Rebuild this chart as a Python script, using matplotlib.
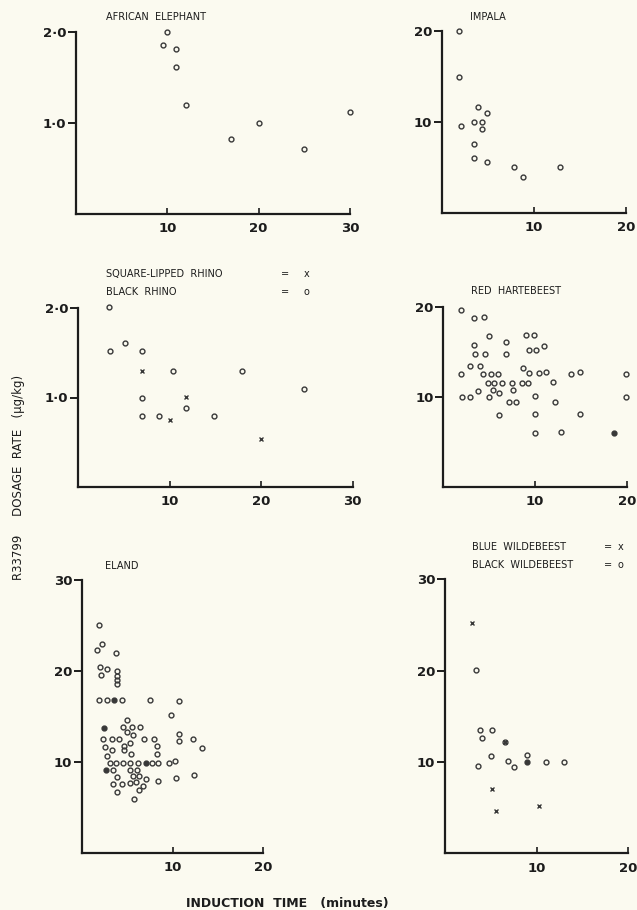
import matplotlib
matplotlib.use("Agg")
import matplotlib.pyplot as plt

# ---- Data (induction time in minutes, dosage rate) ----
elephant_t = [10, 9.5, 11, 11, 12, 17, 20, 25, 30]
elephant_dose = [2.0, 1.86, 1.81, 1.62, 1.2, 0.82, 1.0, 0.71, 1.12]

impala_t = [1.85, 1.85, 2.1, 3.5, 3.9, 4.35, 4.35, 4.9, 3.5, 3.5, 4.85, 7.8, 8.85, 12.85]
impala_dose = [20, 15, 9.6, 10, 11.7, 10, 9.2, 11, 7.6, 6.0, 5.6, 5.1, 4.0, 5.05]

black_rhino_t = [3.4, 3.5, 5.1, 7, 10.4, 17.9, 7, 7, 8.9, 11.8, 14.8, 24.7]
black_rhino_dose = [2.01, 1.52, 1.61, 1.52, 1.3, 1.3, 1.0, 0.79, 0.79, 0.88, 0.79, 1.09]
sq_rhino_t = [7, 11.8, 10, 20]
sq_rhino_dose = [1.3, 1.01, 0.75, 0.54]

hart_t = [1.9, 3.38, 4.44, 4.95, 8.99, 9.86, 3.38, 6.87, 9.38, 10.1, 11.0, 3.46, 4.58, 6.84,
          2.88, 3.97, 8.72, 1.96, 4.3, 5.17, 6.0, 9.31, 10.4, 11.17, 13.93, 14.87, 19.96,
          4.84, 5.56, 6.37, 7.46, 8.58, 9.27, 12.0, 5.45, 7.6, 3.78, 6.07, 2.04, 2.95, 4.98,
          9.97, 19.96, 7.13, 7.96, 12.18, 6.07, 9.97, 14.87, 10.03, 12.87]
hart_dose = [19.6, 18.74, 18.9, 16.8, 16.9, 16.9, 15.8, 16.04, 15.2, 15.2, 15.6, 14.7, 14.7, 14.7,
             13.4, 13.4, 13.15, 12.5, 12.5, 12.5, 12.5, 12.6, 12.6, 12.75, 12.5, 12.7, 12.5,
             11.5, 11.5, 11.5, 11.5, 11.55, 11.55, 11.6, 10.7, 10.7, 10.67, 10.4, 10.0, 10.0, 10.0,
             10.08, 10.0, 9.41, 9.41, 9.41, 8.0, 8.08, 8.03, 5.97, 6.08]
hart_filled_t = [18.58]
hart_filled_dose = [5.97]

eland_t = [1.9, 2.24, 1.69, 3.78, 2.02, 2.72, 2.13, 3.82, 3.82, 3.82, 3.82,
           1.9, 2.72, 4.37, 7.53, 10.7, 9.85,
           5.0, 4.48, 5.47, 6.39, 5.0, 5.59,
           2.32, 3.31, 4.12, 6.8, 7.98, 10.73, 10.73, 12.24, 13.23,
           2.5, 3.27, 4.63, 5.33, 4.67, 8.23, 5.44, 8.27, 2.76,
           3.05, 3.78, 4.48, 5.26, 6.14, 7.72, 8.35, 9.56, 10.22,
           3.42, 5.26, 6.1, 3.82, 5.59, 6.32, 7.09, 8.35, 10.33, 12.31,
           3.45, 4.41, 5.26, 5.95, 6.76, 6.28, 3.89, 5.77]
eland_dose = [25.05, 23.0, 22.3, 22.0, 20.4, 20.2, 19.56, 19.97, 19.5, 19.0, 18.57,
              16.8, 16.8, 16.8, 16.8, 16.7, 15.2,
              14.65, 13.9, 13.9, 13.9, 13.33, 12.97,
              12.53, 12.53, 12.53, 12.53, 12.53, 13.04, 12.34, 12.5, 11.57,
              11.6, 11.35, 11.8, 12.12, 11.28, 11.8, 10.9, 10.9, 10.7,
              9.89, 9.89, 9.89, 9.89, 9.89, 9.89, 9.89, 9.86, 10.1,
              9.08, 9.08, 9.08, 8.39, 8.45, 8.45, 8.13, 7.95, 8.28, 8.6,
              7.58, 7.6, 7.69, 7.84, 7.4, 6.89, 6.7, 5.97]
eland_filled_t = [3.49, 2.46, 7.02, 2.68]
eland_filled_dose = [16.8, 13.77, 9.89, 9.08]

blue_wb_t = [2.95, 6.52, 5.17, 5.6, 10.24]
blue_wb_dose = [25.2, 12.2, 7.07, 4.65, 5.2]
black_wb_t = [3.42, 3.86, 5.14, 4.08, 5.03, 3.57, 6.9, 7.54, 8.9, 11.07, 13.0, 6.52]
black_wb_dose = [20.07, 13.5, 13.5, 12.6, 10.7, 9.6, 10.15, 9.5, 10.8, 10.0, 10.0, 12.2]
black_wb_filled_t = [8.9]
black_wb_filled_dose = [9.97]

# ---- Figure setup ----
W, H = 637, 910
BG = "#fbfaf0"
INK = "#1c1c1c"
DOT = "#383838"
plt.rcParams["font.family"] = ["DejaVu Sans"]

fig = plt.figure(figsize=(W / 100, H / 100), dpi=100, facecolor=BG)


def panel(x0, x1, yb, yt, xmax, ymax, yticks, yticklabels, xticks):
    ax = fig.add_axes([x0 / W, 1 - yb / H, (x1 - x0) / W, (yb - yt) / H])
    ax.set_facecolor("none")
    ax.set_xlim(0, xmax)
    ax.set_ylim(0, ymax)
    for s in ("top", "right"):
        ax.spines[s].set_visible(False)
    for s in ("left", "bottom"):
        ax.spines[s].set_linewidth(1.6)
        ax.spines[s].set_color(INK)
        ax.spines[s].set_capstyle("projecting")
    ax.set_yticks(yticks)
    ax.set_yticklabels(yticklabels)
    ax.set_xticks(xticks)
    ax.set_xticklabels([str(v) for v in xticks])
    ax.tick_params(axis="y", direction="out", length=6, width=1.4, pad=1,
                   labelsize=9.5, colors=INK)
    ax.tick_params(axis="x", direction="in", length=4, width=1.2, pad=6,
                   labelsize=9.5, colors=INK)
    for lab in ax.get_xticklabels() + ax.get_yticklabels():
        lab.set_fontweight("bold")
    return ax


def circles(ax, t, d, filled=False):
    ax.plot(t, d, "o", ms=3.5, mew=1.0, mec=DOT,
            mfc=DOT if filled else "none", clip_on=False)


def crosses(ax, t, d):
    ax.plot(t, d, "x", ms=3.3, mew=1.0, color=DOT, clip_on=False)


def label(x, y, s, size=7, **kw):
    fig.text(x / W, 1 - y / H, s, fontsize=size, color=INK, va="center", **kw)


# African elephant
ax1 = panel(76, 350, 214, 32, 30, 2.0, [1.0, 2.0], ["1·0", "2·0"], [10, 20, 30])
circles(ax1, elephant_t, elephant_dose)
label(106, 17, "AFRICAN  ELEPHANT")

# Impala
ax2 = panel(442, 626, 213, 31, 20, 20, [10, 20], ["10", "20"], [10, 20])
circles(ax2, impala_t, impala_dose)
label(470, 17, "IMPALA")

# Rhinos
ax3 = panel(78, 352.7, 487, 308, 30, 2.0, [1.0, 2.0], ["1·0", "2·0"], [10, 20, 30])
circles(ax3, black_rhino_t, black_rhino_dose)
crosses(ax3, sq_rhino_t, sq_rhino_dose)
label(106, 274, "SQUARE-LIPPED  RHINO")
label(106, 292, "BLACK  RHINO")
label(281, 274, "=")
label(281, 292, "=")
label(304, 274, "x")
label(304, 292, "o")

# Red hartebeest
ax4 = panel(443.3, 626.7, 486.7, 306.7, 20, 20, [10, 20], ["10", "20"], [10, 20])
circles(ax4, hart_t, hart_dose)
circles(ax4, hart_filled_t, hart_filled_dose, filled=True)
label(471, 291, "RED  HARTEBEEST")

# Eland
ax5 = panel(82, 263.3, 853, 580, 20, 30, [10, 20, 30], ["10", "20", "30"], [10, 20])
circles(ax5, eland_t, eland_dose)
circles(ax5, eland_filled_t, eland_filled_dose, filled=True)
label(105, 566, "ELAND")

# Wildebeest
ax6 = panel(445, 628.3, 853.3, 579.3, 20, 30, [10, 20, 30], ["10", "20", "30"], [10, 20])
circles(ax6, black_wb_t, black_wb_dose)
circles(ax6, black_wb_filled_t, black_wb_filled_dose, filled=True)
crosses(ax6, blue_wb_t, blue_wb_dose)
label(472, 547, "BLUE  WILDEBEEST")
label(472, 565, "BLACK  WILDEBEEST")
label(604, 547, "=")
label(604, 565, "=")
label(618, 547, "x")
label(618, 565, "o")

# Shared axis labels
fig.text(19 / W, 1 - 477 / H, "R33799     DOSAGE  RATE   (µg/kg)", rotation=90,
         fontsize=8.5, color=INK, ha="center", va="center")
fig.text(287 / W, 1 - 903 / H, "INDUCTION  TIME   (minutes)", fontsize=9,
         fontweight="bold", color=INK, ha="center", va="center")

fig.savefig("out.png", dpi=100, facecolor=BG)
